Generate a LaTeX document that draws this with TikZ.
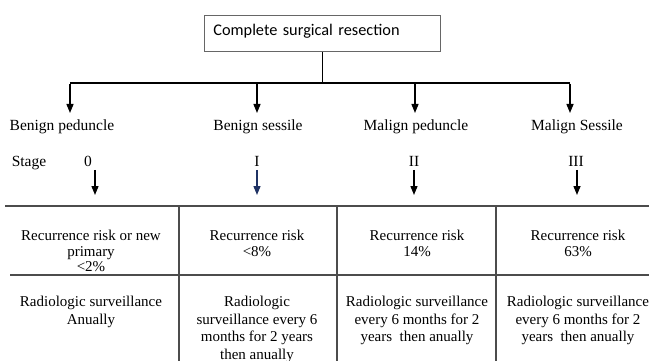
\documentclass[tikz,border=0pt]{standalone}
\usepackage{fontspec}
\setmainfont{Liberation Serif}
\newfontfamily\boxfont{Carlito}
\usetikzlibrary{arrows.meta}

\definecolor{navyarrow}{RGB}{31,50,100}

\tikzset{
  down/.style={-{Triangle[width=7pt,length=9pt]},line width=1.4pt},
  rule/.style={line width=1.1pt,draw=black!70},
  lbl/.style={font=\fontsize{15.5}{17}\selectfont,inner sep=0pt,text height=10.5pt,text depth=3.5pt},
  cell/.style={align=center,inner sep=0pt,anchor=north}
}

\begin{document}
\begin{tikzpicture}[x=1pt,y=-1pt]
    \useasboundingbox (0,0) rectangle (649,361);

    %%%%%%%%%%%%%%%%%%%%%%%%%%%%%%%%%%%%
    % top box and branches
    %%%%%%%%%%%%%%%%%%%%%%%%%%%%%%%%%%%%
    \node (top) [draw=black!60, line width=0.8pt, anchor=north west, align=left,
        text width=218pt, inner xsep=9pt, inner ysep=9pt, text depth=7pt,
        font=\boxfont\fontsize{16.3}{18}\selectfont] at (204,15) {Complete surgical resection};

    \coordinate (j) at (322,83);
    \coordinate (b1) at (70,83);
    \coordinate (b2) at (257,83);
    \coordinate (b3) at (415,83);
    \coordinate (b4) at (570,83);
    \coordinate (e1) at (70,113);
    \coordinate (e2) at (257,113);
    \coordinate (e3) at (415,113);
    \coordinate (e4) at (570,113);

    \draw[line width=0.8pt] (j |- top.south) -- (j);
    \draw[line width=1.4pt] (b1) -- (b4);

    \draw[down] ([yshift=-0.7pt]b1) -- (e1);
    \draw[down] ([yshift=-0.7pt]b2) -- (e2);
    \draw[down] ([yshift=-0.7pt]b3) -- (e3);
    \draw[down] ([yshift=-0.7pt]b4) -- (e4);

    \node (c1) [lbl] at (62,127) {Benign peduncle};
    \node (c2) [lbl] at (258,127) {Benign sessile};
    \node (c3) [lbl] at (416,127) {Malign peduncle};
    \node (c4) [lbl] at (577,127) {Malign Sessile};

    %%%%%%%%%%%%%%%%%%%%%%%%%%%%%%%%%%%%
    % stages
    %%%%%%%%%%%%%%%%%%%%%%%%%%%%%%%%%%%%
    \node (stage) [lbl] at (29,163) {Stage};
    \node (s1) [lbl] at (88,163) {0};
    \node (s2) [lbl] at (257,163) {I};
    \node (s3) [lbl] at (414,163) {II};
    \node (s4) [lbl] at (576,163) {III};

    \coordinate (f1) at (95,170);
    \coordinate (f2) at (257,170);
    \coordinate (f3) at (414,170);
    \coordinate (f4) at (577,170);
    \coordinate (t1) at (95,195);
    \coordinate (t2) at (257,195);
    \coordinate (t3) at (414,195);
    \coordinate (t4) at (577,195);

    \draw[down] (f1) -- (t1);
    \draw[down, navyarrow] (f2) -- (t2);
    \draw[down] (f3) -- (t3);
    \draw[down] (f4) -- (t4);

    %%%%%%%%%%%%%%%%%%%%%%%%%%%%%%%%%%%%
    % table
    %%%%%%%%%%%%%%%%%%%%%%%%%%%%%%%%%%%%
    \draw[rule] (5,206) -- (649,206);
    \draw[rule] (10,275) -- (649,275);
    \draw[rule] (179,206) -- (179,361);
    \draw[rule] (337,206) -- (337,361);
    \draw[rule] (496,206) -- (496,361);

    \node (r1) [cell, font=\fontsize{15}{15.5}\selectfont] at (91,230)
        {Recurrence risk or new\\ primary\\ <2\%};
    \node (r2) [cell, font=\fontsize{15}{15.5}\selectfont] at (257,230)
        {Recurrence risk\\ <8\%};
    \node (r3) [cell, font=\fontsize{15}{15.5}\selectfont] at (417,230)
        {Recurrence risk\\ 14\%};
    \node (r4) [cell, font=\fontsize{15}{15.5}\selectfont] at (578,230)
        {Recurrence risk\\ 63\%};

    \node (p1) [cell, font=\fontsize{15}{17.5}\selectfont] at (91,296)
        {Radiologic surveillance\\ Anually};
    \node (p2) [cell, font=\fontsize{15}{17.5}\selectfont] at (257,296)
        {Radiologic\\ surveillance every 6\\ months for 2 years\\ then anually};
    \node (p3) [cell, font=\fontsize{15}{17.5}\selectfont] at (417,296)
        {Radiologic surveillance\\ every 6 months for 2\\ years\ \ then anually};
    \node (p4) [cell, font=\fontsize{15}{17.5}\selectfont] at (578,296)
        {Radiologic surveillance\\ every 6 months for 2\\ years\ \ then anually};

\end{tikzpicture}
\end{document}
